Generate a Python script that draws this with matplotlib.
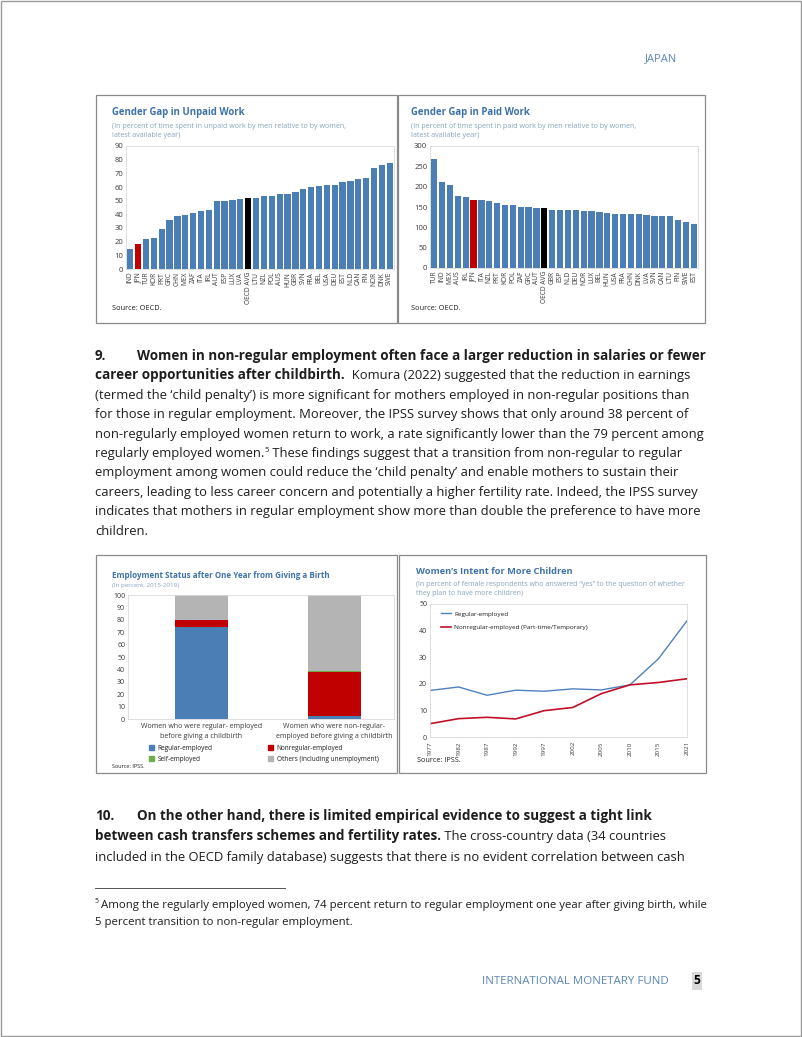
import matplotlib
matplotlib.use("Agg")
import matplotlib.pyplot as plt
from matplotlib.patches import Rectangle, Patch

W, H = 802, 1037

# ---- chart data ----
unpaid_countries = ["IND", "JPN", "TUR", "KOR", "PRT", "GRC", "CHN", "MEX", "ZAF", "ITA",
                    "IRL", "AUT", "ESP", "LUX", "LVA", "OECD AVG", "LTU", "NZL", "POL", "AUS",
                    "HUN", "GBR", "SVN", "FRA", "BEL", "USA", "DEU", "EST", "NLD", "CAN",
                    "FIN", "NOR", "DNK", "SWE"]
unpaid_values = [14.6, 18.2, 22.1, 22.6, 29.2, 36.2, 38.7, 39.7, 41.1, 42.6,
                 43.3, 50.1, 50.1, 50.4, 51.1, 51.6, 51.6, 53.3, 53.5, 55.0,
                 55.0, 56.2, 58.2, 59.9, 60.6, 61.1, 61.8, 64.0, 64.5, 65.9,
                 66.7, 73.7, 76.4, 77.6]

paid_countries = ["TUR", "IND", "MEX", "AUS", "IRL", "JPN", "ITA", "NZL", "PRT", "KOR",
                  "POL", "ZAF", "GRC", "AUT", "OECD AVG", "GBR", "ESP", "NLD", "DEU", "NOR",
                  "LUX", "BEL", "HUN", "USA", "FRA", "CHN", "DNK", "LVA", "SVN", "CAN",
                  "LTU", "FIN", "SWE", "EST"]
paid_values = [268, 212, 203, 176, 175, 166, 166, 165, 161, 156,
               156, 151, 149, 147, 147, 143, 142, 142, 142, 139,
               139, 137, 135, 134, 134, 134, 134, 131, 128, 127,
               127, 119, 114, 109]

birth_groups = ["Women who were regular- employed\nbefore giving a childbirth",
                "Women who were non-regular-\nemployed before giving a childbirth"]
birth_regular = [74.5, 2.5]
birth_nonregular = [5.0, 35.3]
birth_self = [0.5, 0.7]
birth_others = [20.0, 61.5]

intent_years = ["1977", "1982", "1987", "1992", "1997", "2002", "2005", "2010", "2015", "2021"]
intent_regular = [17.5, 18.8, 15.7, 17.6, 17.2, 18.1, 17.7, 19.6, 29.4, 43.7]
intent_nonregular = [5.0, 6.9, 7.4, 6.8, 9.9, 11.1, 16.3, 19.6, 20.5, 21.9]

# ---- colours ----
BLUE = "#4a7eb5"
RED = "#c00000"
GREEN = "#70ad47"
GRAY = "#b4b4b4"
LINE_BLUE = "#4f81bd"
LINE_RED = "#c0102a"
TITLE = "#3e72a8"
SUB = "#86a3c3"
TEXT = "#1e1e1e"
TICK = "#3a3a3a"
BOX_EDGE = "#8a8a8a"
SPINE = "#d9d9d9"

plt.rcParams["font.family"] = ["Open Sans", "DejaVu Sans"]

BODY = 9.4
BOLD = 9.73
FOOT = 8.2


def axes_at(fig, x0, y0, x1, y1):
    """Axes placed with pixel coordinates measured from the top-left corner."""
    return fig.add_axes([x0 / W, 1 - y1 / H, (x1 - x0) / W, (y1 - y0) / H])


def style_axes(ax, size):
    for s in ax.spines.values():
        s.set_color(SPINE)
        s.set_linewidth(0.6)
    ax.tick_params(length=0, labelsize=size, colors=TICK, pad=2)


def draw_box(page, x0, y0, x1, y1):
    page.add_patch(Rectangle((x0, y0), x1 - x0, y1 - y0, fill=False,
                             edgecolor=BOX_EDGE, lw=0.9))


def draw_line(page, x, y, segments):
    """Write one line made of bold / regular / superscript pieces."""
    base = None
    prev = None
    for text, style in segments:
        kw = dict(color=TEXT, ha="left", fontsize=BOLD if style == "b" else BODY,
                  fontweight="bold" if style == "b" else "normal")
        if base is None:
            prev = page.text(x, y, text, va="baseline", **kw)
            base = prev
        elif style == "s":
            kw["fontsize"] = BODY * 0.6
            prev = page.annotate(text, xy=(1, 0.5), xycoords=(prev, base), va="bottom", **kw)
        else:
            prev = page.annotate(text, xy=(1, 0), xycoords=(prev, base), va="bottom", **kw)


def gender_gap_chart(fig, page, box, plot, title_xy, title, subtitle, countries, values,
                     ymax, ystep):
    draw_box(page, *box)
    tx, ty = title_xy
    page.text(tx, ty, title, color=TITLE, fontsize=6.9, fontweight="bold", va="center")
    page.text(tx, ty + 18, subtitle, color=SUB, fontsize=5.15, va="center", linespacing=1.3)
    page.text(tx, box[3] - 15, "Source: OECD.", color=TEXT, fontsize=5.3, va="center")

    ax = axes_at(fig, *plot)
    colors = [RED if c == "JPN" else "black" if c == "OECD AVG" else BLUE for c in countries]
    ax.bar(range(len(countries)), values, width=0.8, color=colors)
    ax.set_xlim(-0.55, len(countries) - 0.45)
    ax.set_ylim(0, ymax)
    ax.set_yticks(range(0, ymax + 1, ystep))
    ax.set_xticks(range(len(countries)))
    ax.set_xticklabels(countries, rotation=90)
    style_axes(ax, 5.5)
    ax.tick_params(axis="x", labelsize=4.8)


def employment_chart(fig, page):
    draw_box(page, 96, 555, 397, 773)
    page.text(112, 575, "Employment Status after One Year from Giving a Birth",
              color=TITLE, fontsize=5.8, fontweight="bold", va="center")
    page.text(112, 586, "(In percent, 2015-2019)", color=SUB, fontsize=4.5, va="center")
    page.text(112, 766, "Source: IPSS.", color=TEXT, fontsize=4.0, va="center")

    ax = axes_at(fig, 128, 595, 394, 719)
    x = range(len(birth_groups))
    bottom = [0, 0]
    for vals, col in [(birth_regular, BLUE), (birth_nonregular, RED),
                      (birth_self, GREEN), (birth_others, GRAY)]:
        ax.bar(x, vals, bottom=bottom, width=0.4, color=col)
        bottom = [b + v for b, v in zip(bottom, vals)]
    ax.set_xlim(-0.55, 1.45)
    ax.set_ylim(0, 100)
    ax.set_yticks(range(0, 101, 10))
    ax.set_xticks(list(x))
    ax.set_xticklabels(birth_groups, fontsize=4.4, linespacing=1.5)
    style_axes(ax, 5.0)
    ax.tick_params(axis="x", pad=3)

    sq = dict(handlelength=0.8, handleheight=0.8, handletextpad=0.5, frameon=False,
              fontsize=4.7, labelspacing=0.5, borderpad=0, labelcolor=TEXT)
    fig.legend([Patch(color=BLUE), Patch(color=GREEN)], ["Regular-employed", "Self-employed"],
               loc="upper left", bbox_to_anchor=(146 / W, 1 - 742 / H), **sq)
    fig.legend([Patch(color=RED), Patch(color=GRAY)],
               ["Nonregular-employed", "Others (including unemployment)"],
               loc="upper left", bbox_to_anchor=(265 / W, 1 - 742 / H), **sq)


def intent_chart(fig, page):
    draw_box(page, 399, 555, 706, 773)
    page.text(416, 572, "Women\u2019s Intent for More Children", color=TITLE, fontsize=6.7,
              fontweight="bold", va="center")
    page.text(416, 589, "(In percent of female respondents who answered \u201cyes\u201d to the question of whether\n"
              "they plan to have more children)", color=SUB, fontsize=5.0, va="center",
              linespacing=1.3)
    page.text(417, 761, "Source: IPSS.", color=TEXT, fontsize=5.2, va="center")

    ax = axes_at(fig, 430, 604, 687, 737)
    x = range(len(intent_years))
    ax.plot(x, intent_regular, color=LINE_BLUE, lw=1.0, label="Regular-employed")
    ax.plot(x, intent_nonregular, color=LINE_RED, lw=1.2,
            label="Nonregular-employed (Part-time/Temporary)")
    ax.set_xlim(0, len(intent_years) - 1)
    ax.set_ylim(0, 50)
    ax.set_yticks(range(0, 51, 10))
    ax.set_xticks(list(x))
    ax.set_xticklabels(intent_years, rotation=90)
    style_axes(ax, 5.0)
    ax.tick_params(axis="x", labelsize=4.5, pad=3)
    ax.legend(loc="upper left", bbox_to_anchor=(0.03, 0.97), frameon=False, fontsize=4.6,
              handlelength=1.6, handletextpad=0.5, labelspacing=1.2, borderpad=0,
              labelcolor=TEXT)


def main():
    fig = plt.figure(figsize=(W / 100, H / 100), dpi=100)
    page = fig.add_axes([0, 0, 1, 1])
    page.set_xlim(0, W)
    page.set_ylim(H, 0)
    page.axis("off")
    page.add_patch(Rectangle((0.5, 0.5), W - 1.5, H - 1.5, fill=False, edgecolor="#9a9a9a", lw=1))

    # header / footer
    page.text(661, 59, "JAPAN", color="#5a86b8", fontsize=8.0, ha="center", va="center")
    page.text(669, 981, "INTERNATIONAL MONETARY FUND", color="#5a86b8", fontsize=8.25,
              ha="right", va="center")
    page.text(697, 981, "5", color="black", fontsize=8.6, fontweight="bold", ha="center",
              va="center", bbox=dict(facecolor="#d9d9d9", edgecolor="none", pad=1.5))

    gender_gap_chart(fig, page, (96, 95, 397, 323), (126, 146, 394, 269), (112, 113),
                     "Gender Gap in Unpaid Work",
                     "(In percent of time spent in unpaid work by men relative to by women,\n"
                     "latest available year)",
                     unpaid_countries, unpaid_values, 90, 10)
    gender_gap_chart(fig, page, (398, 95, 705, 323), (430, 146, 698, 268), (411, 113),
                     "Gender Gap in Paid Work",
                     "(In percent of time spent in paid work by men relative to by women,\n"
                     "latest available year)",
                     paid_countries, paid_values, 300, 50)
    employment_chart(fig, page)
    intent_chart(fig, page)

    # paragraph 9
    para9 = [
        [("Women in non-regular employment often face a larger reduction in salaries or fewer", "b")],
        [("career opportunities after childbirth.", "b"),
         ("  Komura (2022) suggested that the reduction in earnings", "r")],
        [("(termed the \u2018child penalty\u2019) is more significant for mothers employed in non-regular positions than", "r")],
        [("for those in regular employment. Moreover, the IPSS survey shows that only around 38 percent of", "r")],
        [("non-regularly employed women return to work, a rate significantly lower than the 79 percent among", "r")],
        [("regularly employed women.", "r"), ("5", "s"),
         (" These findings suggest that a transition from non-regular to regular", "r")],
        [("employment among women could reduce the \u2018child penalty\u2019 and enable mothers to sustain their", "r")],
        [("careers, leading to less career concern and potentially a higher fertility rate. Indeed, the IPSS survey", "r")],
        [("indicates that mothers in regular employment show more than double the preference to have more", "r")],
        [("children.", "r")],
    ]
    page.text(95, 360, "9.", color=TEXT, fontsize=BOLD, fontweight="bold", va="baseline")
    for i, segs in enumerate(para9):
        draw_line(page, 137 if i == 0 else 95, 360 + 19.4 * i, segs)

    # paragraph 10
    para10 = [
        [("On the other hand, there is limited empirical evidence to suggest a tight link", "b")],
        [("between cash transfers schemes and fertility rates.", "b"),
         (" The cross-country data (34 countries", "r")],
        [("included in the OECD family database) suggests that there is no evident correlation between cash", "r")],
    ]
    page.text(95, 820, "10.", color=TEXT, fontsize=BOLD, fontweight="bold", va="baseline")
    for i, segs in enumerate(para10):
        draw_line(page, 137 if i == 0 else 95, 820 + 20.3 * i, segs)

    # footnote
    page.plot([95, 285], [888, 888], color="#555555", lw=0.7)
    page.text(95, 903, "5", color=TEXT, fontsize=FOOT * 0.6, va="baseline")
    page.text(101, 908, "Among the regularly employed women, 74 percent return to regular employment "
              "one year after giving birth, while", color=TEXT, fontsize=FOOT, va="baseline")
    page.text(95, 925, "5 percent transition to non-regular employment.", color=TEXT,
              fontsize=FOOT, va="baseline")

    fig.savefig("out.png", dpi=100)


if __name__ == "__main__":
    main()
